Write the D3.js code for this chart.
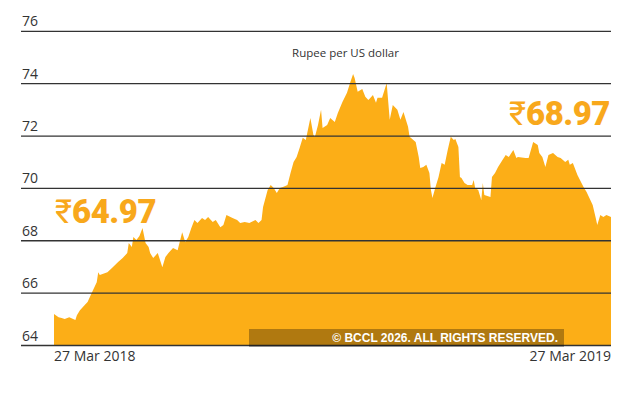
<!DOCTYPE html>
<html><head><meta charset="utf-8">
<script src="https://cdn.jsdelivr.net/npm/d3@7"></script>
<style>html,body{margin:0;padding:0;background:#fff;}svg{display:block;}</style>
</head><body>
<svg id="chart" width="630" height="394"></svg>
<script>
const dates = ["2018-03-27","2018-03-30","2018-04-01","2018-04-03","2018-04-06","2018-04-10","2018-04-11","2018-04-13","2018-04-16","2018-04-18",
"2018-04-21","2018-04-24","2018-04-25","2018-04-26","2018-05-01","2018-05-04","2018-05-08","2018-05-11","2018-05-14","2018-05-15",
"2018-05-17","2018-05-18","2018-05-20","2018-05-22","2018-05-24","2018-05-26","2018-05-28","2018-05-29","2018-05-31","2018-06-03",
"2018-06-06","2018-06-08","2018-06-10","2018-06-13","2018-06-16","2018-06-19","2018-06-21","2018-06-23","2018-06-25","2018-06-27",
"2018-06-29","2018-07-02","2018-07-04","2018-07-06","2018-07-09","2018-07-11","2018-07-14","2018-07-16","2018-07-18","2018-07-22",
"2018-07-25","2018-07-27","2018-07-30","2018-08-02","2018-08-06","2018-08-08","2018-08-10","2018-08-11","2018-08-14","2018-08-16",
"2018-08-18","2018-08-20","2018-08-22","2018-08-24","2018-08-27","2018-08-29","2018-08-31","2018-09-02","2018-09-04","2018-09-06",
"2018-09-08","2018-09-11","2018-09-13","2018-09-14","2018-09-16","2018-09-18","2018-09-19","2018-09-22","2018-09-24","2018-09-27",
"2018-09-29","2018-10-02","2018-10-05","2018-10-07","2018-10-09","2018-10-10","2018-10-12","2018-10-15","2018-10-17","2018-10-19",
"2018-10-21","2018-10-22","2018-10-24","2018-10-25","2018-10-28","2018-10-31","2018-11-02","2018-11-04","2018-11-07","2018-11-09",
"2018-11-11","2018-11-14","2018-11-15","2018-11-19","2018-11-21","2018-11-22","2018-11-24","2018-11-26","2018-11-28","2018-11-29",
"2018-11-30","2018-12-02","2018-12-04","2018-12-06","2018-12-08","2018-12-10","2018-12-12","2018-12-14","2018-12-15","2018-12-17",
"2018-12-18","2018-12-19","2018-12-21","2018-12-23","2018-12-26","2018-12-27","2018-12-28","2018-12-30","2019-01-01","2019-01-02",
"2019-01-03","2019-01-07","2019-01-08","2019-01-10","2019-01-12","2019-01-15","2019-01-17","2019-01-19","2019-01-22","2019-01-24",
"2019-01-25","2019-01-30","2019-02-01","2019-02-04","2019-02-07","2019-02-08","2019-02-10","2019-02-12","2019-02-14","2019-02-17",
"2019-02-20","2019-02-22","2019-02-25","2019-02-27","2019-02-28","2019-03-02","2019-03-05","2019-03-09","2019-03-11","2019-03-15",
"2019-03-17","2019-03-18","2019-03-20","2019-03-22","2019-03-24","2019-03-27"];

const rupeePerDollar = [65.20,65.08,65.05,65.01,65.08,64.97,65.16,65.35,65.54,65.66,
66.04,66.42,66.80,66.69,66.80,66.96,67.19,67.34,67.53,67.91,
67.76,68.14,68.03,68.18,68.49,67.91,67.76,67.53,67.34,67.53,
66.99,67.38,67.53,67.72,67.64,68.33,67.95,68.14,68.49,68.79,
68.68,68.87,68.79,68.91,68.72,68.79,68.52,68.60,68.98,68.87,
68.79,68.68,68.72,68.68,68.79,68.68,68.79,69.29,69.94,70.13,
70.02,69.82,70.02,70.05,70.13,70.59,71.01,71.20,71.55,71.93,
71.85,72.69,72.04,71.97,72.42,73.00,72.31,72.42,72.69,72.54,
72.88,73.30,73.65,74.03,74.37,74.22,73.69,73.80,73.50,73.38,
73.50,73.57,73.27,73.46,73.46,74.03,72.62,73.19,73.00,72.62,
72.92,72.35,71.97,71.77,71.20,70.78,70.82,70.90,70.59,69.94,
69.63,70.05,70.44,70.97,70.90,71.47,71.97,71.85,71.89,71.58,
70.44,70.40,70.21,70.13,70.13,70.32,70.02,69.94,69.56,70.21,
69.75,69.67,70.44,70.59,70.82,71.09,71.28,71.20,71.47,71.16,
71.20,71.16,71.16,71.77,71.66,71.35,71.20,70.82,71.28,71.35,
71.20,71.16,71.01,71.09,70.90,70.97,70.51,70.05,69.86,69.37,
68.87,68.60,68.98,68.91,68.98,68.91];

const yTicks = [64, 66, 68, 70, 72, 74, 76];
const xLabels = ["27 Mar 2018", "27 Mar 2019"];
const title = "Rupee per US dollar";
const startLabel = "64.97";
const endLabel = "68.97";
const copyright = "\u00A9 BCCL 2026. ALL RIGHTS RESERVED.";

const parse = d3.timeParse("%Y-%m-%d");
const data = dates.map((d, i) => ({date: parse(d), value: rupeePerDollar[i]}));

const svg = d3.select("#chart");
const orange = "#FCAE17";
const labelOrange = "#F8A81C";

const x = d3.scaleTime()
  .domain([parse("2018-03-27"), parse("2019-03-27")])
  .range([54, 611]);
const y = d3.scaleLinear().domain([64, 76]).range([345.5, 31.3]);

// area
const area = d3.area()
  .x(d => x(d.date))
  .y0(y(64))
  .y1(d => y(d.value))
  .curve(d3.curveLinear);
svg.append("path").datum(data).attr("d", area).attr("fill", orange);

// gridlines + y labels
const g = svg.append("g");
g.selectAll("line").data(yTicks).join("line")
  .attr("x1", 21).attr("x2", 611)
  .attr("y1", d => y(d)).attr("y2", d => y(d))
  .attr("stroke", "#333").attr("stroke-width", 1.3);
g.selectAll("text").data(yTicks).join("text")
  .attr("x", 22).attr("y", d => y(d) - 5)
  .attr("font-family", "Open Sans, sans-serif").attr("font-size", 14)
  .attr("fill", "#333").text(d => d);

// title
svg.append("text").attr("x", 345.5).attr("y", 57).attr("text-anchor", "middle")
  .attr("font-family", "Open Sans, sans-serif").attr("font-size", 11.5)
  .attr("fill", "#333").text(title);

// big labels
function bigLabel(xp, yp, anchor, val) {
  const t = svg.append("text").attr("x", xp).attr("y", yp).attr("text-anchor", anchor)
    .attr("font-family", "Roboto, sans-serif").attr("fill", labelOrange).attr("font-size", 33);
  t.append("tspan").attr("font-weight", 400).text("\u20B9");
  t.append("tspan").attr("font-weight", 900).attr("letter-spacing", -0.5).text(val);
}
bigLabel(55, 223, "start", startLabel);
bigLabel(610, 125, "end", endLabel);

// x labels
svg.append("text").attr("x", x(parse("2018-03-27"))).attr("y", 361)
  .attr("font-family", "Open Sans, sans-serif").attr("font-size", 14).attr("fill", "#333").text(xLabels[0]);
svg.append("text").attr("x", x(parse("2019-03-27"))).attr("y", 361).attr("text-anchor", "end")
  .attr("font-family", "Open Sans, sans-serif").attr("font-size", 14).attr("fill", "#333").text(xLabels[1]);

// copyright band
svg.append("rect").attr("x", 249).attr("y", 329).attr("width", 315).attr("height", 18)
  .attr("fill", "rgba(0,0,0,0.3)");
svg.append("text").attr("x", 558).attr("y", 341.5).attr("text-anchor", "end")
  .attr("font-family", "Liberation Sans, Arial, sans-serif").attr("font-weight", 700)
  .attr("font-size", 12).attr("fill", "#fff").text(copyright);
</script>
</body></html>
